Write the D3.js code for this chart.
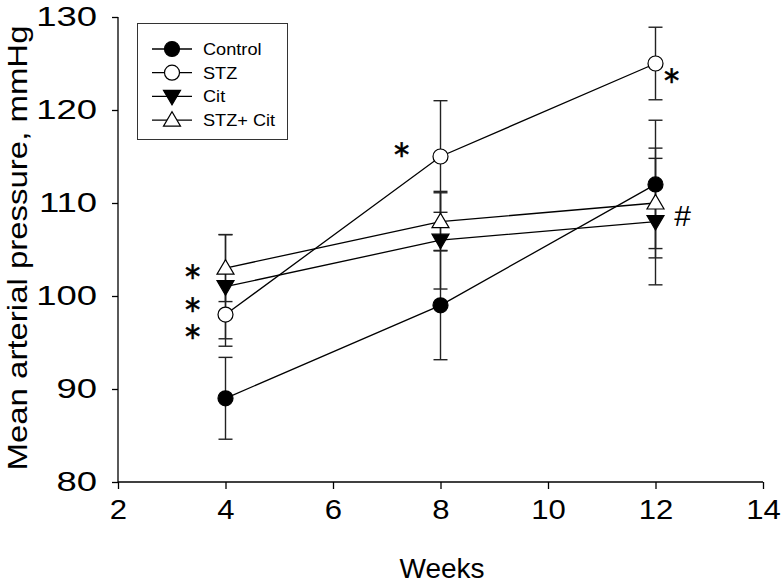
<!DOCTYPE html>
<html><head><meta charset="utf-8">
<script src="https://cdn.jsdelivr.net/npm/d3@7"></script>
<style>
html,body{margin:0;padding:0;background:#fff;}
text{font-family:"Liberation Sans",Arial,sans-serif;fill:#000;}
</style></head>
<body><svg id="c" width="784" height="585"></svg>
<script>
const weeks = [4, 8, 12];
const seriesNames = ["Control", "STZ", "Cit", "STZ+ Cit"];
const controlMean = [89, 99, 112];
const controlErr = [4.4, 5.85, 6.9];
const stzMean = [98, 115, 125];
const stzErr = [3.4, 6, 3.9];
const citMean = [101, 106, 108];
const citErr = [5.6, 5.25, 6.8];
const stzCitMean = [103, 108, 110];
const stzCitErr = [3.6, 3.1, 5.9];
const xTicks = [2, 4, 6, 8, 10, 12, 14];
const yTicks = [80, 90, 100, 110, 120, 130];
// significance marks: week, value level of the mark, symbol
const annWeek = [4, 4, 4, 8, 12, 12];
const annLevel = [102.6, 99.0, 96.1, 115.7, 123.7, 108.7];
const annLabel = ["\u2217", "\u2217", "\u2217", "\u2217", "\u2217", "#"];

const svg = d3.select("#c");
const x = d3.scaleLinear().domain([2, 14]).range([118, 763]);
const y = d3.scaleLinear().domain([80, 130]).range([482, 17]);

function stretch(sel, k) {
  sel.each(function() {
    const len = this.getComputedTextLength();
    d3.select(this).attr("textLength", len * k).attr("lengthAdjust", "spacingAndGlyphs");
  });
}

// axes
const xa = svg.append("g").attr("transform", "translate(0,482)")
  .call(d3.axisBottom(x).tickValues(xTicks).tickSize(7).tickPadding(11).tickFormat(d3.format("d")));
const ya = svg.append("g").attr("transform", "translate(118,0)")
  .call(d3.axisLeft(y).tickValues(yTicks).tickSize(6).tickPadding(15).tickFormat(d3.format("d")));
[xa, ya].forEach(a => {
  a.select(".domain").attr("stroke", "#000").attr("stroke-width", 1.3);
  a.selectAll(".tick line").attr("stroke", "#000").attr("stroke-width", 1.3);
  a.selectAll(".tick text").style("font-size", "27px").attr("fill", "#000")
    .style("font-family", "'Liberation Sans', Arial, sans-serif");
});
stretch(xa.selectAll(".tick text"), 1.15);
stretch(ya.selectAll(".tick text"), 1.35);
xa.selectAll(".domain").attr("d", `M118,0H763`);
ya.selectAll(".domain").attr("d", `M0,482V17`);

svg.append("text").attr("x", 442).attr("y", 578).attr("text-anchor", "middle")
  .style("font-size", "28px").text("Weeks");
svg.append("text").attr("transform", "translate(27,248) rotate(-90)").attr("text-anchor", "middle")
  .style("font-size", "28px").attr("textLength", 445).attr("lengthAdjust", "spacingAndGlyphs")
  .text("Mean arterial pressure, mmHg");

const series = [
  {name: seriesNames[0], mean: controlMean, err: controlErr, shape: "circle", fill: "#000"},
  {name: seriesNames[1], mean: stzMean, err: stzErr, shape: "circle", fill: "#fff"},
  {name: seriesNames[2], mean: citMean, err: citErr, shape: "down", fill: "#000"},
  {name: seriesNames[3], mean: stzCitMean, err: stzCitErr, shape: "up", fill: "#fff"}
];

function marker(g, shape, fill) {
  if (shape === "circle") {
    g.append("circle").attr("r", 7.5).attr("fill", fill).attr("stroke", "#000").attr("stroke-width", 1.2);
  } else if (shape === "down") {
    g.append("path").attr("d", "M-8.5,-6L8.5,-6L0,8.5Z").attr("fill", fill).attr("stroke", "#000").attr("stroke-width", 1.2);
  } else {
    g.append("path").attr("d", "M-8.5,6L8.5,6L0,-8.5Z").attr("fill", fill).attr("stroke", "#000").attr("stroke-width", 1.2);
  }
}

// error bars
series.forEach(s => {
  const g = svg.append("g").attr("stroke", "#222").attr("stroke-width", 1.4);
  weeks.forEach((w, i) => {
    const px = x(w), top = y(s.mean[i] + s.err[i]), bot = y(s.mean[i] - s.err[i]);
    g.append("line").attr("x1", px).attr("x2", px).attr("y1", top).attr("y2", bot);
    g.append("line").attr("x1", px - 7).attr("x2", px + 7).attr("y1", top).attr("y2", top);
    g.append("line").attr("x1", px - 7).attr("x2", px + 7).attr("y1", bot).attr("y2", bot);
  });
});
// lines
const line = d3.line().x((d, i) => x(weeks[i])).y(d => y(d));
series.forEach(s => {
  svg.append("path").attr("d", line(s.mean)).attr("fill", "none").attr("stroke", "#000").attr("stroke-width", 1.3);
});
// markers
series.forEach(s => {
  weeks.forEach((w, i) => {
    const g = svg.append("g").attr("transform", `translate(${x(w)},${y(s.mean[i])})`);
    marker(g, s.shape, s.fill);
  });
});

// annotations
const annDx = [-33, -33, -33, -39, 16, 27];
annWeek.forEach((w, k) => {
  const isHash = annLabel[k] === "#";
  svg.append("text").attr("text-anchor", "middle")
    .attr("x", x(w) + annDx[k]).attr("y", y(annLevel[k]))
    .attr("dy", isHash ? "0.36em" : "0.3em")
    .style("font-family", isHash ? "'Liberation Sans', Arial, sans-serif" : "'DejaVu Sans', sans-serif")
    .style("font-size", isHash ? "30px" : "23.5px")
    .attr("stroke", isHash ? "none" : "#000").attr("stroke-width", 0.4)
    .text(annLabel[k]);
});

// legend
const lg = svg.append("g");
lg.append("rect").attr("x", 137.5).attr("y", 23.5).attr("width", 150).attr("height", 116)
  .attr("fill", "#fff").attr("stroke", "#333").attr("stroke-width", 1);
series.forEach((s, i) => {
  const cy = 49 + i * 23.7;
  lg.append("line").attr("x1", 152).attr("x2", 192).attr("y1", cy).attr("y2", cy).attr("stroke", "#000").attr("stroke-width", 1.3);
  const g = lg.append("g").attr("transform", `translate(172,${cy})`);
  marker(g, s.shape, s.fill);
  const t = lg.append("text").attr("x", 203).attr("y", cy).attr("dy", "0.36em").style("font-size", "16.5px").text(s.name);
  stretch(t, 1.1);
});
</script></body></html>
